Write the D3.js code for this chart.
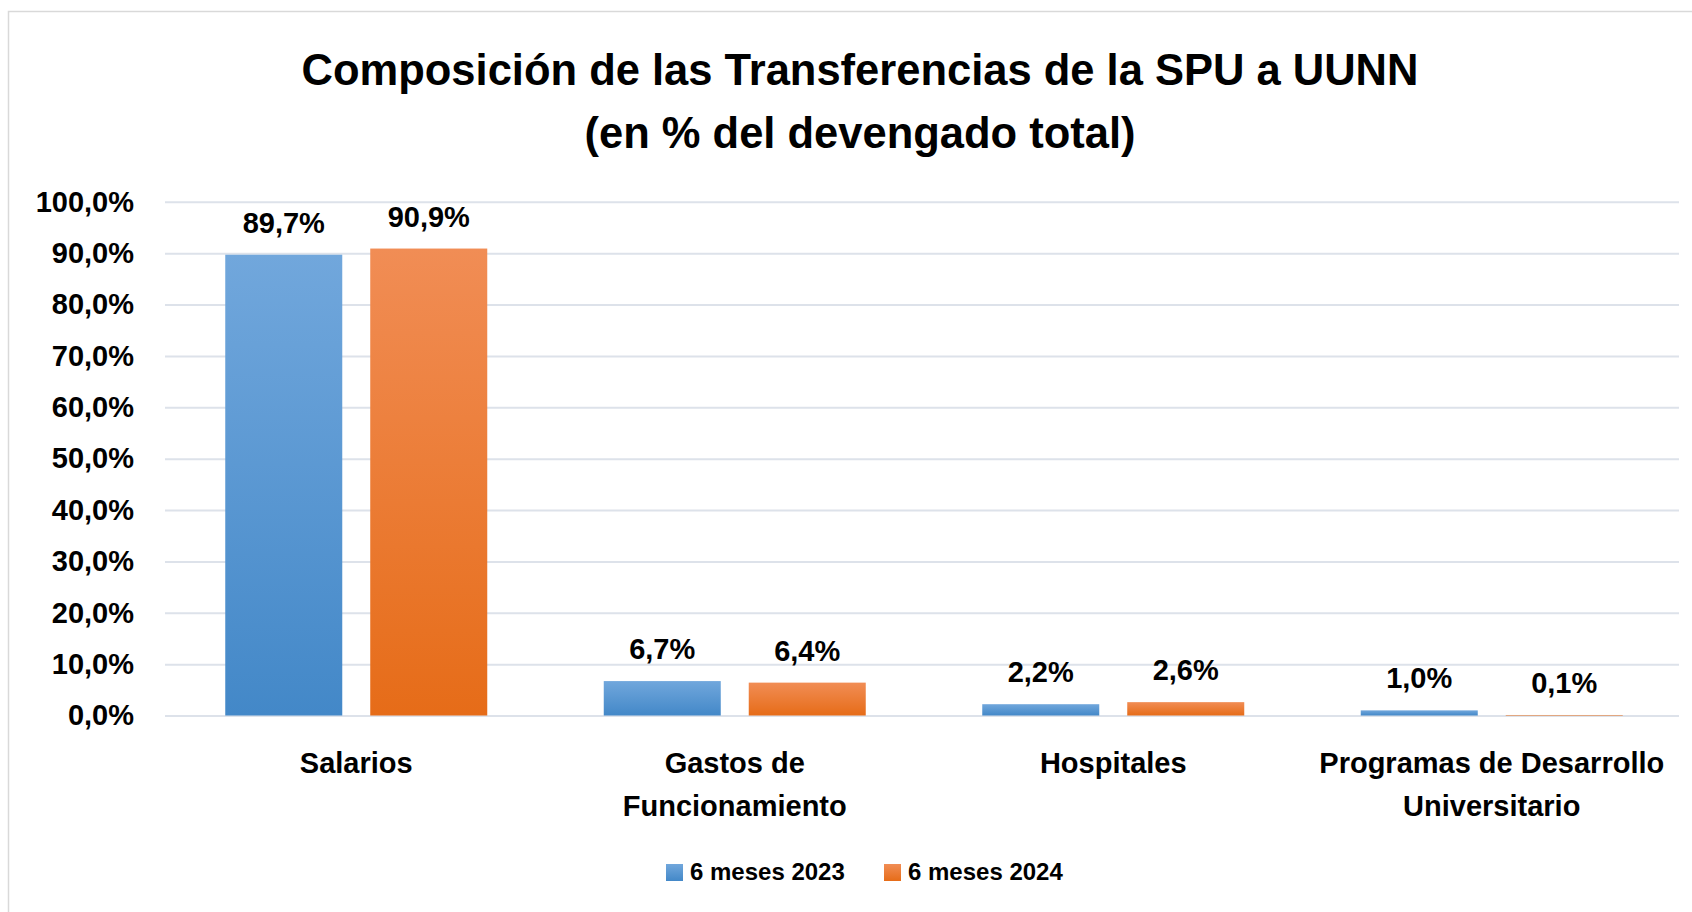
<!DOCTYPE html>
<meta charset="utf-8">
<head>
<style>
  body { margin: 0; background: #fff; }
  text { font-family: "Liberation Sans", Arial, sans-serif; font-weight: bold; fill: #000; }
</style>
</head>
<body>
<script src="https://cdnjs.cloudflare.com/ajax/libs/d3/7.8.5/d3.min.js"></script>
<script>

// Data
var categories = [["Salarios"], ["Gastos de", "Funcionamiento"], ["Hospitales"], ["Programas de Desarrollo", "Universitario"]];
var seriesNames = ["6 meses 2023", "6 meses 2024"];
var values2023 = [89.7, 6.7, 2.2, 1.0];
var values2024 = [90.9, 6.4, 2.6, 0.1];
var yTicks = [0, 10, 20, 30, 40, 50, 60, 70, 80, 90, 100];

var width = 1692,
    height = 912;

var margin = {left: 165, right: 1679, top: 201.8, bottom: 715.5};

var svg = d3.select("body").append("svg")
    .attr("width", width)
    .attr("height", height);

// gradients like the excel fill
var defs = svg.append("defs");
var grads = [["g2023", "#71a7dc", "#4388c8"], ["g2024", "#f18d55", "#e66c18"]];
grads.forEach(function(g) {
  var lg = defs.append("linearGradient")
      .attr("id", g[0])
      .attr("x1", 0).attr("y1", 0).attr("x2", 0).attr("y2", 1);
  lg.append("stop").attr("offset", "0%").attr("stop-color", g[1]);
  lg.append("stop").attr("offset", "100%").attr("stop-color", g[2]);
});

// chart border
svg.append("rect")
    .attr("x", 8.5).attr("y", 11.5)
    .attr("width", 1750).attr("height", 1000)
    .attr("fill", "none")
    .attr("stroke", "#d9d9d9")
    .attr("stroke-width", 1.5);

// scales
var x0 = d3.scaleBand()
    .domain(d3.range(categories.length))
    .range([margin.left, margin.right]);

var groupFrac = 262 / 378.5;
var barShift = 2;
var x1 = d3.scaleBand()
    .domain([0, 1])
    .range([x0.bandwidth() * (1 - groupFrac) / 2 + barShift, x0.bandwidth() * (1 + groupFrac) / 2 + barShift])
    .paddingInner(0.193);

var y = d3.scaleLinear()
    .domain([0, 100])
    .range([margin.bottom, margin.top]);

var fmt = function(v) { return v.toFixed(1).replace(".", ",") + "%"; };

// gridlines + y axis
var yAxis = d3.axisLeft(y)
    .tickValues(yTicks)
    .tickSize(-(margin.right - margin.left))
    .tickPadding(31)
    .tickFormat(fmt);

var gy = svg.append("g")
    .attr("transform", "translate(" + margin.left + ",0)")
    .call(yAxis);
gy.select(".domain").remove();
gy.selectAll(".tick line").attr("stroke", "#dde2ea").attr("stroke-width", 2);
gy.selectAll(".tick text")
    .style("font-size", "29px")
    .attr("fill", "#000");

// bars
var series = [values2023, values2024];
series.forEach(function(vals, s) {
  var g = svg.append("g");
  g.selectAll("rect")
    .data(vals)
    .enter()
    .append("rect")
    .attr("x", function(d, i) { return x0(i) + x1(s); })
    .attr("y", function(d) { return y(d); })
    .attr("width", x1.bandwidth())
    .attr("height", function(d) { return y(0) - y(d); })
    .attr("fill", "url(#" + grads[s][0] + ")");

  g.selectAll("text")
    .data(vals)
    .enter()
    .append("text")
    .attr("x", function(d, i) { return x0(i) + x1(s) + x1.bandwidth() / 2; })
    .attr("y", function(d) { return y(d) - 22; })
    .attr("text-anchor", "middle")
    .style("font-size", "29px")
    .text(fmt);
});

// category labels
var catLabels = svg.append("g").selectAll("text")
    .data(categories)
    .enter()
    .append("text")
    .attr("text-anchor", "middle")
    .style("font-size", "29px")
    .attr("transform", function(d, i) { return "translate(" + (x0(i) + x0.bandwidth() / 2 + barShift) + ",773)"; });
catLabels.selectAll("tspan")
    .data(function(d) { return d; })
    .enter()
    .append("tspan")
    .attr("x", 0)
    .attr("y", function(d, i) { return i * 43; })
    .text(function(d) { return d; });

// title
var title = svg.append("text")
    .attr("text-anchor", "middle")
    .style("font-size", "43.5px");
title.append("tspan").attr("x", 860).attr("y", 85).text("Composición de las Transferencias de la SPU a UUNN");
title.append("tspan").attr("x", 860).attr("y", 148).text("(en % del devengado total)");

// legend
var legendX = [666, 884];
var legend = svg.append("g").selectAll("g")
    .data(seriesNames)
    .enter()
    .append("g")
    .attr("transform", function(d, i) { return "translate(" + legendX[i] + ",864)"; });
legend.append("rect")
    .attr("width", 17).attr("height", 17)
    .attr("fill", function(d, i) { return "url(#" + grads[i][0] + ")"; });
legend.append("text")
    .attr("x", 24)
    .attr("y", 16)
    .style("font-size", "24px")
    .text(function(d) { return d; });

</script>
</body>
